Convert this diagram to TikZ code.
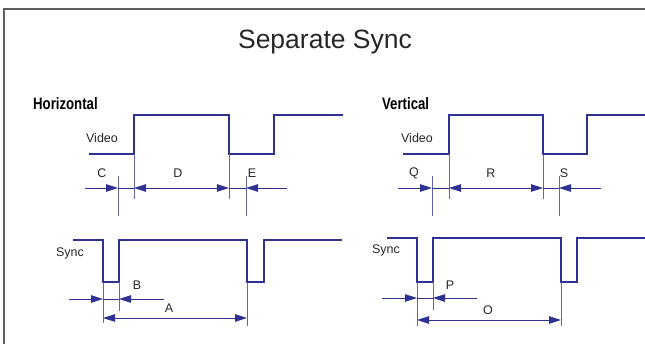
\documentclass[tikz,border=0pt]{standalone}
\usepackage{fontspec}
\setmainfont{Liberation Sans}
\usetikzlibrary{arrows.meta}
\definecolor{trace}{RGB}{46,49,146}
\definecolor{framegray}{RGB}{95,95,95}
\tikzset{
	signal/.style={trace, line width=2.8pt, line join=miter},
	tick/.style={trace!75, line width=0.8pt},
	dimline/.style={trace, line width=0.8pt},
	dimarrow/.style={dimline, -{Triangle[length=12pt,width=7.5pt]}},
	bothdim/.style={dimline, {Triangle[length=12pt,width=7.5pt]}-{Triangle[length=12pt,width=7.5pt]}},
	lbl/.style={font=\fontsize{12.5}{14}\selectfont, text=black!85, inner sep=0pt},
	heading/.style={font=\bfseries\fontsize{16.5}{18}\selectfont, inner sep=0pt, anchor=west, xscale=0.8},
}

\begin{document}
\begin{tikzpicture}[x=1pt, y=-1pt]
		%%%%% START %%%%%
		\useasboundingbox (0,0) rectangle (645,344);
		\draw[framegray, line width=2pt] (4,344) -- (4,9) -- (645,9);
		
		\node[font=\fontsize{26.5}{30}\selectfont, text=black!85] (title) at (325,42) {Separate Sync};
		\node[heading] (horiz) at (33,104) {Horizontal};
		\node[heading] (vert) at (382,104) {Vertical};
		
		%%%%% HORIZONTAL %%%%%
		\draw[signal] (89,154) -- (134,154) -- (134,115) -- (229,115) -- (229,154) -- (274,154) -- (274,115) -- (343,115);
		\node[lbl] (hvideo) at (102,138) {Video};
		
		\coordinate (hc) at (118,188);
		\coordinate (hd1) at (134,188);
		\coordinate (hd2) at (229,188);
		\coordinate (he) at (246,188);
		\draw[tick] (118,176) -- (118,216);
		\draw[tick] (134,154) -- (134,199);
		\draw[tick] (229,154) -- (229,199);
		\draw[tick] (246,176) -- (246,216);
		\draw[dimarrow] (85,188) -- (hc);
		\draw[dimline] (hc) -- (hd1);
		\draw[bothdim] (hd1) -- (hd2);
		\draw[dimline] (hd2) -- (he);
		\draw[dimarrow] (287,188) -- (he);
		\node[lbl] (lc) at (102,173) {C};
		\node[lbl] (ld) at (178,173) {D};
		\node[lbl] (le) at (252,173) {E};
		
		\draw[signal] (73,240) -- (103,240) -- (103,282) -- (119,282) -- (119,240) -- (247,240) -- (247,282) -- (264,282) -- (264,240) -- (342,240);
		\node[lbl] (hsync) at (70,253) {Sync};
		
		\coordinate (hb1) at (103,299);
		\coordinate (hb2) at (119,299);
		\coordinate (ha1) at (103,318);
		\coordinate (ha2) at (247,318);
		\draw[tick] (103,282) -- (103,323);
		\draw[tick] (119,282) -- (119,311);
		\draw[tick] (247,282) -- (247,326);
		\draw[dimarrow] (69,299) -- (hb1);
		\draw[dimline] (hb1) -- (hb2);
		\draw[dimarrow] (164,299) -- (hb2);
		\draw[bothdim] (ha1) -- (ha2);
		\node[lbl] (lb) at (137,285) {B};
		\node[lbl] (la) at (169,308) {A};
		
		%%%%% VERTICAL %%%%%
		\draw[signal] (403,154) -- (449,154) -- (449,115) -- (543,115) -- (543,154) -- (587,154) -- (587,115) -- (645,115);
		\node[lbl] (vvideo) at (417,138) {Video};
		
		\coordinate (vq) at (432,188);
		\coordinate (vr1) at (449,188);
		\coordinate (vr2) at (543,188);
		\coordinate (vs) at (559,188);
		\draw[tick] (432,176) -- (432,216);
		\draw[tick] (449,154) -- (449,199);
		\draw[tick] (543,154) -- (543,199);
		\draw[tick] (559,176) -- (559,216);
		\draw[dimarrow] (398,188) -- (vq);
		\draw[dimline] (vq) -- (vr1);
		\draw[bothdim] (vr1) -- (vr2);
		\draw[dimline] (vr2) -- (vs);
		\draw[dimarrow] (601,188) -- (vs);
		\node[lbl] (lq) at (414,173) {Q};
		\node[lbl] (lr) at (491,173) {R};
		\node[lbl] (ls) at (564,173) {S};
		
		\draw[signal] (387,238) -- (417,238) -- (417,282) -- (433,282) -- (433,238) -- (561,238) -- (561,282) -- (577,282) -- (577,238) -- (645,238);
		\node[lbl] (vsync) at (386,250) {Sync};
		
		\coordinate (vp1) at (417,298);
		\coordinate (vp2) at (433,298);
		\coordinate (vo1) at (417,320);
		\coordinate (vo2) at (561,320);
		\draw[tick] (417,282) -- (417,326);
		\draw[tick] (433,282) -- (433,310);
		\draw[tick] (561,282) -- (561,326);
		\draw[dimarrow] (382,298) -- (vp1);
		\draw[dimline] (vp1) -- (vp2);
		\draw[dimarrow] (477,298) -- (vp2);
		\draw[bothdim] (vo1) -- (vo2);
		\node[lbl] (lp) at (450,285) {P};
		\node[lbl] (lo) at (488,310) {O};
		
		%%%%% END %%%%%
\end{tikzpicture}
\end{document}
